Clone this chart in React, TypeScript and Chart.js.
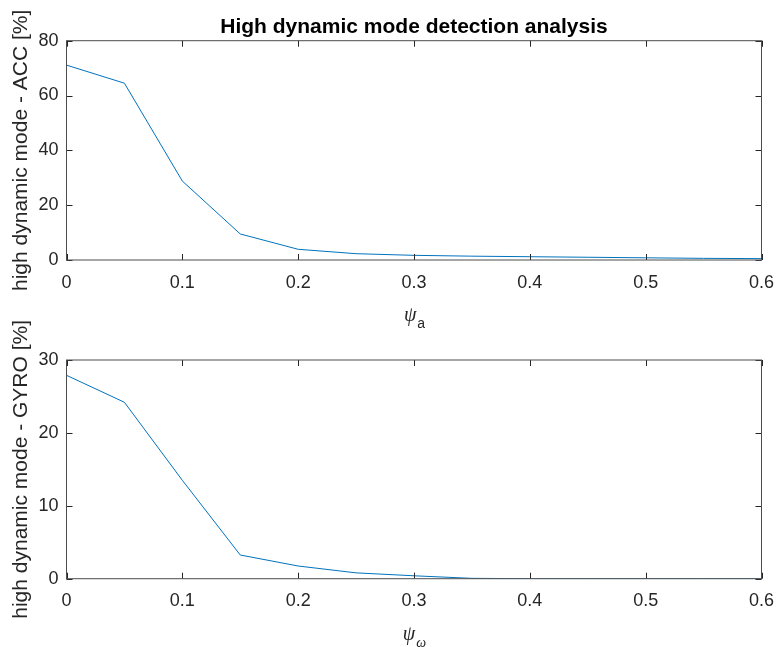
import React, { useEffect, useRef } from "react";
import { Chart, registerables } from "chart.js";

Chart.register(...registerables);

const psiValues = [0, 0.05, 0.1, 0.15, 0.2, 0.25, 0.3, 0.35, 0.4, 0.45, 0.5, 0.55, 0.6];
const accPercent = [71.1, 64.5, 28.8, 9.5, 3.9, 2.3, 1.7, 1.4, 1.2, 1.0, 0.8, 0.6, 0.5];
const gyroPercent = [27.9, 24.2, 13.5, 3.25, 1.74, 0.8, 0.4, 0.05, 0, 0, 0, 0, 0];
const xTicks = [0, 0.1, 0.2, 0.3, 0.4, 0.5, 0.6];
const accYTicks = [0, 20, 40, 60, 80];
const gyroYTicks = [0, 10, 20, 30];
const mainTitle = "High dynamic mode detection analysis";
const accYLabel = "high dynamic mode - ACC [%]";
const gyroYLabel = "high dynamic mode - GYRO [%]";
const accXSub = "a";
const gyroXSub = "\u03C9";

const SANS = '"Liberation Sans", Arial, Helvetica, sans-serif';
const SERIF = '"Liberation Serif", "DejaVu Serif", serif';
const AXIS_COLOR = "#262626";
const LINE_COLOR = "#0072BD";

function makeAxesPlugin(xt: number[], yt: number[], sub: string, subItalic: boolean, title: string | null) {
  return {
    id: "matlabAxes",
    afterDraw(chart: any) {
      const { ctx, chartArea } = chart;
      const xs = chart.scales.x;
      const ys = chart.scales.y;
      const { left, right, top, bottom } = chartArea;
      ctx.save();
      // ticks (inward, mirrored)
      ctx.strokeStyle = AXIS_COLOR;
      ctx.lineWidth = 1;
      const tl = 6;
      ctx.beginPath();
      xt.forEach((v) => {
        const px = Math.round(xs.getPixelForValue(v)) + 0.5;
        ctx.moveTo(px, bottom);
        ctx.lineTo(px, bottom - tl);
        ctx.moveTo(px, top);
        ctx.lineTo(px, top + tl);
      });
      yt.forEach((v) => {
        const py = Math.round(ys.getPixelForValue(v)) + 0.5;
        ctx.moveTo(left, py);
        ctx.lineTo(left + tl, py);
        ctx.moveTo(right, py);
        ctx.lineTo(right - tl, py);
      });
      ctx.stroke();
      // box
      ctx.strokeStyle = "#4d4d4d";
      ctx.lineWidth = 1;
      ctx.strokeRect(left, top, right - left, bottom - top);
      const cx = (left + right) / 2;
      // title
      if (title) {
        ctx.fillStyle = "#000000";
        ctx.font = "bold 21px " + SANS;
        ctx.textAlign = "center";
        ctx.textBaseline = "middle";
        ctx.fillText(title, cx, 27);
      }
      // x label: psi with subscript
      ctx.fillStyle = AXIS_COLOR;
      ctx.textBaseline = "alphabetic";
      ctx.textAlign = "left";
      const psiFont = "italic 20px " + SERIF;
      const subFont = subItalic ? "italic 14px " + SERIF : "14px " + SANS;
      ctx.font = psiFont;
      const w1 = ctx.measureText("\u03C8").width;
      ctx.font = subFont;
      const w2 = ctx.measureText(sub).width;
      const x0 = cx - (w1 + w2) / 2;
      ctx.font = psiFont;
      ctx.fillText("\u03C8", x0, bottom + 61);
      ctx.font = subFont;
      ctx.fillText(sub, x0 + w1 + 1, bottom + 68);
      ctx.restore();
    },
  };
}

function makeConfig(
  values: number[],
  yTicks: number[],
  yLabel: string,
  sub: string,
  subItalic: boolean,
  title: string | null,
  padTop: number,
  xAxisHeight: number
): any {
  const yMax = yTicks[yTicks.length - 1];
  const yStep = yTicks[1] - yTicks[0];
  return {
    type: "line",
    data: {
      datasets: [
        {
          data: psiValues.map((x, i) => ({ x, y: values[i] })),
          borderColor: LINE_COLOR,
          borderWidth: 1,
          pointRadius: 0,
          tension: 0,
          fill: false,
        },
      ],
    },
    options: {
      responsive: false,
      animation: false,
      devicePixelRatio: 1,
      layout: { padding: { top: padTop, right: 15.5, bottom: 0, left: 0 } },
      plugins: {
        legend: { display: false },
        tooltip: { enabled: false },
        title: { display: false },
      },
      scales: {
        x: {
          type: "linear",
          min: 0,
          max: 0.6,
          afterBuildTicks: (axis: any) => {
            axis.ticks = xTicks.map((v) => ({ value: v }));
          },
          afterFit: (axis: any) => {
            axis.height = xAxisHeight;
            axis.paddingLeft = 0;
            axis.paddingRight = 0;
          },
          grid: { display: false, drawTicks: false },
          border: { display: false },
          ticks: {
            color: AXIS_COLOR,
            font: { family: SANS, size: 18 },
            padding: 12,
            maxRotation: 0,
            autoSkip: false,
            callback: (v: any) => String(Math.round(Number(v) * 10) / 10),
          },
        },
        y: {
          type: "linear",
          min: 0,
          max: yMax,
          afterBuildTicks: (axis: any) => {
            axis.ticks = yTicks.map((v) => ({ value: v }));
          },
          afterFit: (axis: any) => {
            axis.width = 66.5;
            axis.paddingTop = 0;
            axis.paddingBottom = 0;
          },
          grid: { display: false, drawTicks: false },
          border: { display: false },
          ticks: {
            stepSize: yStep,
            color: AXIS_COLOR,
            font: { family: SANS, size: 18 },
            padding: 8,
            autoSkip: false,
          },
          title: {
            display: true,
            text: yLabel,
            color: AXIS_COLOR,
            font: { family: SANS, size: 21 },
            padding: { top: 9, bottom: 0 },
          },
        },
      },
    },
    plugins: [makeAxesPlugin(xTicks, yTicks, sub, subItalic, title)],
  };
}

export default function App() {
  const topRef = useRef<HTMLCanvasElement | null>(null);
  const botRef = useRef<HTMLCanvasElement | null>(null);

  useEffect(() => {
    const c1 = new Chart(
      topRef.current as HTMLCanvasElement,
      makeConfig(accPercent, accYTicks, accYLabel, accXSub, false, mainTitle, 40.7, 80)
    );
    const c2 = new Chart(
      botRef.current as HTMLCanvasElement,
      makeConfig(gyroPercent, gyroYTicks, gyroYLabel, gyroXSub, true, null, 60, 68.3)
    );
    return () => {
      c1.destroy();
      c2.destroy();
    };
  }, []);

  return (
    <div
      style={{
        position: "absolute",
        left: 0,
        top: 0,
        width: 777,
        height: 647,
        background: "#ffffff",
        overflow: "hidden",
      }}
    >
      <canvas
        ref={topRef}
        width={777}
        height={340}
        style={{ position: "absolute", left: 0, top: 0, width: 777, height: 340, display: "block" }}
      />
      <canvas
        ref={botRef}
        width={777}
        height={347}
        style={{ position: "absolute", left: 0, top: 300, width: 777, height: 347, display: "block" }}
      />
    </div>
  );
}
